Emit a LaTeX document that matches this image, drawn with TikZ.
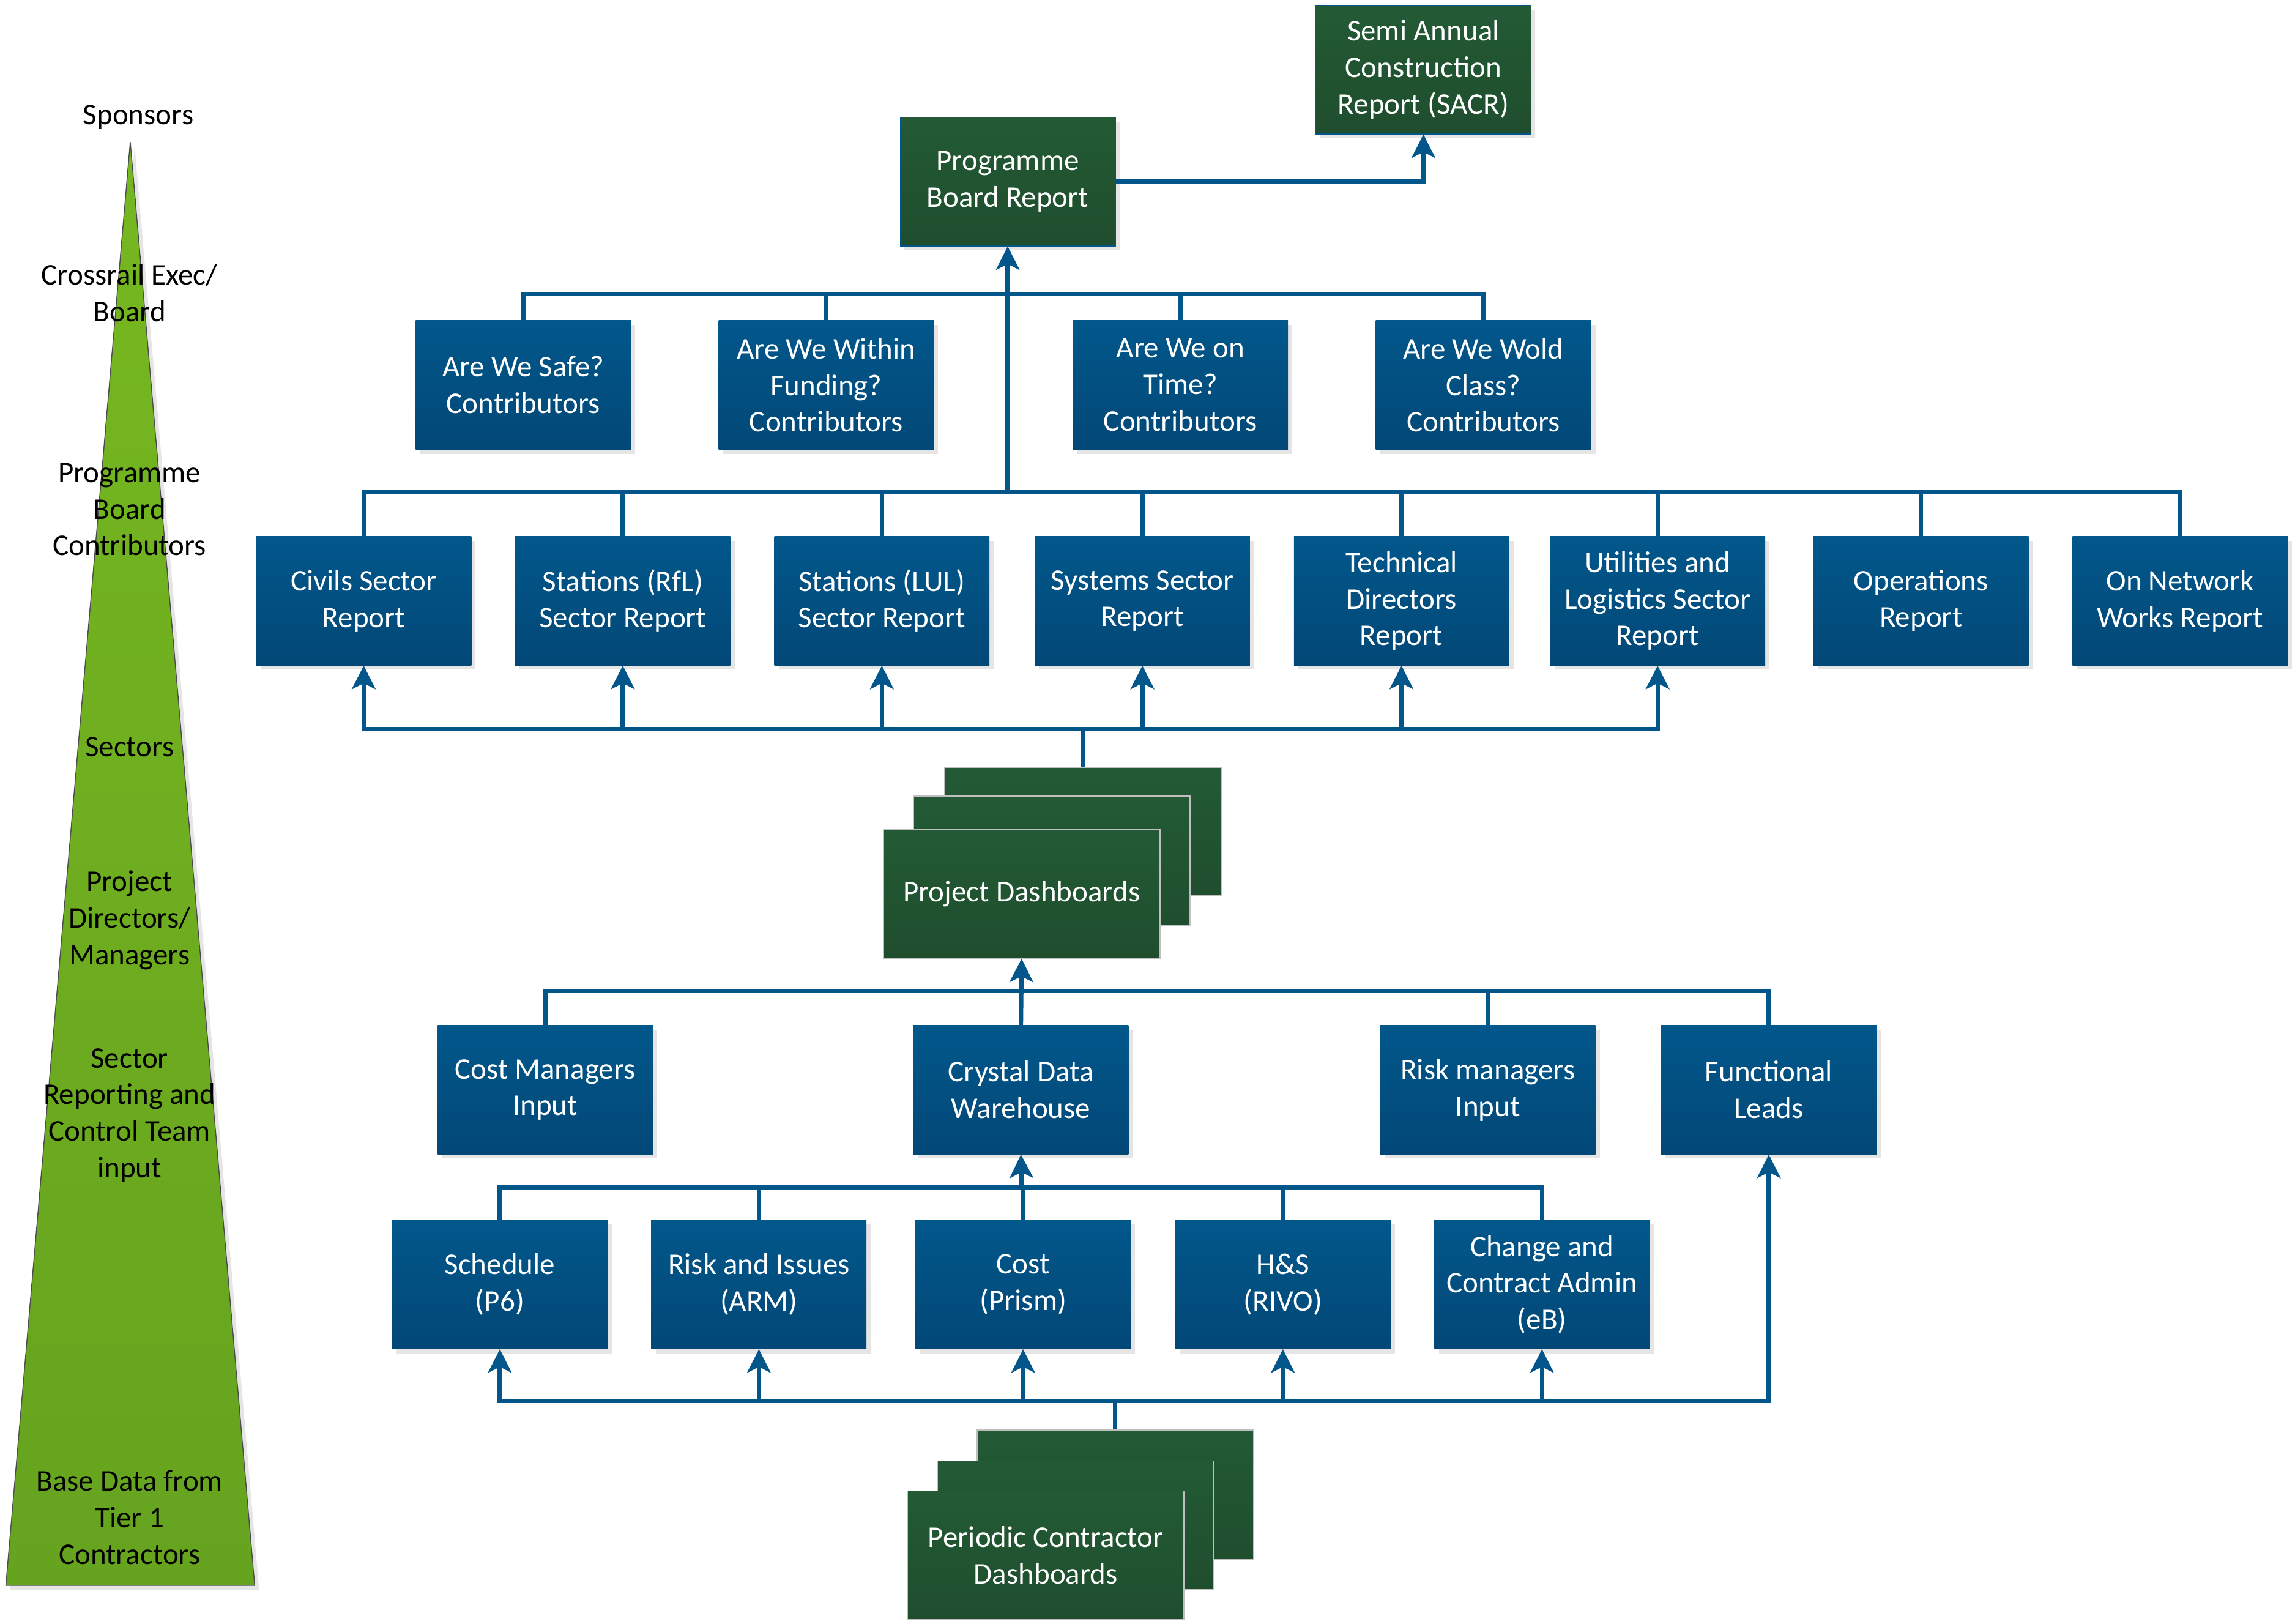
\documentclass[tikz,border=0pt]{standalone}
\usepackage{fontspec}
\setmainfont{Carlito}
\usetikzlibrary{arrows.meta,shadows}

\definecolor{bluetop}{HTML}{02578B}
\definecolor{bluebot}{HTML}{024877}
\definecolor{greentop}{HTML}{235A35}
\definecolor{greenbot}{HTML}{1F4E2E}
\definecolor{wire}{HTML}{02568A}
\definecolor{treetop}{HTML}{76B820}
\definecolor{treebot}{HTML}{66A31F}

\begin{document}
\begin{tikzpicture}[x=1pt, y=-1pt,
		every node/.style={font=\fontsize{20.5}{25}\selectfont, align=center, inner sep=0pt},
		bluebox/.style={top color=bluetop, bottom color=bluebot, text=white,
			minimum width=147pt, minimum height=88pt,
			drop shadow={shadow xshift=3pt, shadow yshift=-3pt, fill=black!10, opacity=1}},
		greenbox/.style={top color=greentop, bottom color=greenbot, text=white, draw=wire, line width=0.6pt,
			minimum width=147pt, minimum height=88pt,
			drop shadow={shadow xshift=3pt, shadow yshift=-3pt, fill=black!10, opacity=1}},
		stackbox/.style={top color=greentop, bottom color=greenbot, text=white, draw=black!25, line width=0.8pt,
			minimum width=189pt, minimum height=88pt},
		level/.style={text=black},
		line/.style={draw=wire, line width=3pt},
		link/.style={line, -{Stealth[length=16pt, width=16pt, inset=4pt]}}]
	
	\useasboundingbox (0,0) rectangle (1568,1109.4);
	
	\fill[black!10] (92,100) -- (7,1086) -- (177,1086) -- cycle;
	\shade[top color=treetop, bottom color=treebot, draw=black!70, line width=0.6pt] (89,97) -- (4,1083) -- (174,1083) -- cycle;
	
	\node[level] (sponsors) at (94.5,80) {Sponsors};
	\node[level] (exec) at (88.5,200) {Crossrail Exec/\\Board};
	\node[level] (contrib) at (88.5,348) {Programme\\Board\\Contributors};
	\node[level] (sectors) at (88.5,510.5) {Sectors};
	\node[level] (directors) at (88.5,628.5) {Project\\Directors/\\Managers};
	\node[level] (control) at (88.5,762) {Sector\\Reporting and\\Control Team\\input};
	\node[level] (base) at (88.5,1036.5) {Base Data from\\Tier 1\\Contractors};
	
	\node[greenbox] (pbr) at (688.5,124) {Programme\\Board Report};
	\node[greenbox] (sacr) at (972.5,47.5) {Semi Annual\\Construction\\Report (SACR)};
	
	\node[bluebox] (safe) at (357.5,263) {Are We Safe?\\Contributors};
	\node[bluebox] (within) at (564.5,263) {Are We Within\\Funding?\\Contributors};
	\node[bluebox] (ontime) at (806.5,263) {Are We on\\Time?\\Contributors};
	\node[bluebox] (wold) at (1013.5,263) {Are We Wold\\Class?\\Contributors};
	
	\node[bluebox] (civils) at (248.5,410.5) {Civils Sector\\Report};
	\node[bluebox] (rfl) at (425.5,410.5) {Stations (RfL)\\Sector Report};
	\node[bluebox] (lul) at (602.5,410.5) {Stations (LUL)\\Sector Report};
	\node[bluebox] (systems) at (780.5,410.5) {Systems Sector\\Report};
	\node[bluebox] (tech) at (957.5,410.5) {Technical\\Directors\\Report};
	\node[bluebox] (util) at (1132.5,410.5) {Utilities and\\Logistics Sector\\Report};
	\node[bluebox] (ops) at (1312.5,410.5) {Operations\\Report};
	\node[bluebox] (onnet) at (1489.5,410.5) {On Network\\Works Report};
	
	\node[stackbox] (pd3) at (740,568) {};
	\node[stackbox] (pd2) at (718.5,588) {};
	\node[stackbox] (pd1) at (698,610.5) {Project Dashboards};
	
	\node[bluebox] (costm) at (372.5,744.5) {Cost Managers\\Input};
	\node[bluebox] (crystal) at (697.5,744.5) {Crystal Data\\Warehouse};
	\node[bluebox] (riskm) at (1016.5,744.5) {Risk managers\\Input};
	\node[bluebox] (funcl) at (1208.5,744.5) {Functional\\Leads};
	
	\node[bluebox] (sched) at (341.5,877.5) {Schedule\\(P6)};
	\node[bluebox] (arm) at (518.5,877.5) {Risk and Issues\\(ARM)};
	\node[bluebox] (prism) at (699,877.5) {Cost\\(Prism)};
	\node[bluebox] (rivo) at (876.5,877.5) {H\&S\\(RIVO)};
	\node[bluebox] (change) at (1053.5,877.5) {Change and\\Contract Admin\\(eB)};
	
	\node[stackbox] (pcd3) at (762,1021) {};
	\node[stackbox] (pcd2) at (735,1042) {};
	\node[stackbox] (pcd1) at (714.5,1062.5) {Periodic Contractor\\Dashboards};
	
	\coordinate (qbus) at (688.5,201);
	\coordinate (sbus) at (688.5,336);
	\coordinate (dbus) at (740,498);
	\coordinate (ibus) at (698,677);
	\coordinate (tbus) at (698,811);
	\coordinate (bbus) at (762,957);
	
	\draw[link] (pbr.east) -| (sacr.south);
	
	\draw[line] (safe.north) |- (qbus) -| (wold.north);
	\draw[line] (within.north) -- (within.north |- qbus);
	\draw[line] (ontime.north) -- (ontime.north |- qbus);
	
	\draw[line] (civils.north) |- (sbus) -| (onnet.north);
	\foreach \n in {rfl,lul,systems,tech,util,ops}
		\draw[line] (\n.north) -- (\n.north |- sbus);
	\draw[link] (sbus) -- (pbr.south);
	
	\draw[link] (dbus) -| (civils.south);
	\draw[link] (dbus) -| (util.south);
	\foreach \n in {rfl,lul,systems,tech}
		\draw[link] (\n.south |- dbus) -- (\n.south);
	\draw[line] (dbus) -- (pd3.north);
	
	\draw[line] (ibus) -| (costm.north);
	\draw[line] (ibus) -| (funcl.north);
	\draw[line] (riskm.north) -- (riskm.north |- ibus);
	\draw[link] (crystal.north) -- (pd1.south);
	
	\draw[line] (tbus) -| (sched.north);
	\draw[line] (tbus) -| (change.north);
	\foreach \n in {arm,prism,rivo}
		\draw[line] (\n.north) -- (\n.north |- tbus);
	\draw[link] (tbus) -- (crystal.south);
	
	\draw[link] (bbus) -| (sched.south);
	\draw[link] (bbus) -| (funcl.south);
	\foreach \n in {arm,prism,rivo,change}
		\draw[link] (\n.south |- bbus) -- (\n.south);
	\draw[line] (bbus) -- (pcd3.north);
	
\end{tikzpicture}
\end{document}
